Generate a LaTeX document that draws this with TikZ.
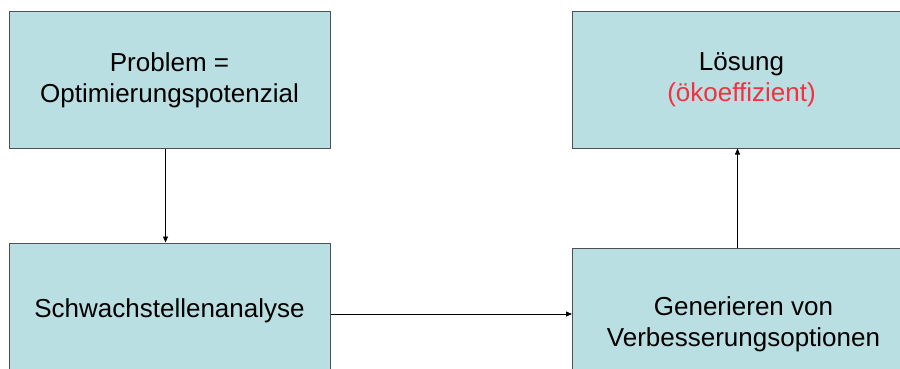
\documentclass[tikz,border=0pt]{standalone}
\usepackage{fontspec}
\setmainfont{Liberation Sans}
\usetikzlibrary{arrows.meta}
\definecolor{boxfill}{RGB}{186,223,226}
\definecolor{boxline}{RGB}{80,80,80}
\definecolor{redtext}{RGB}{245,48,64}
\begin{document}
\begin{tikzpicture}[x=1pt,y=-1pt,
  box/.style={draw=boxline,line width=1pt,fill=boxfill,align=center,
    font=\fontsize{26}{30.7}\selectfont,inner sep=0pt},
  conn/.style={draw=black,line width=0.8pt,-{Triangle[length=6pt,width=5pt]}}]
\useasboundingbox (0,0) rectangle (900,369);
\node[box,minimum width=321pt,minimum height=136pt] (prob) at (169.5,80) {Problem =\\Optimierungspotenzial};
\node[box,minimum width=338pt,minimum height=136pt,anchor=west] (loes) at (572,80) {Lösung\\\textcolor{redtext}{(ökoeffizient)}};
\node[box,minimum width=321pt,minimum height=136pt] (schw) at (169.5,311) {Schwachstellenanalyse};
\node[box,minimum width=342pt,minimum height=153pt,anchor=west] (gen) at (572,324.5) {Generieren von\\Verbesserungsoptionen};
\draw[conn] ([xshift=-4pt]prob.south) -- ([xshift=-4pt]schw.north);
\draw[conn] ([yshift=-3pt]schw.east) -- ([yshift=-3pt]schw.east -| gen.west);
\draw[conn] ([xshift=-6pt]gen.north) -- ([xshift=-6pt]gen.north |- loes.south);
\end{tikzpicture}
\end{document}
